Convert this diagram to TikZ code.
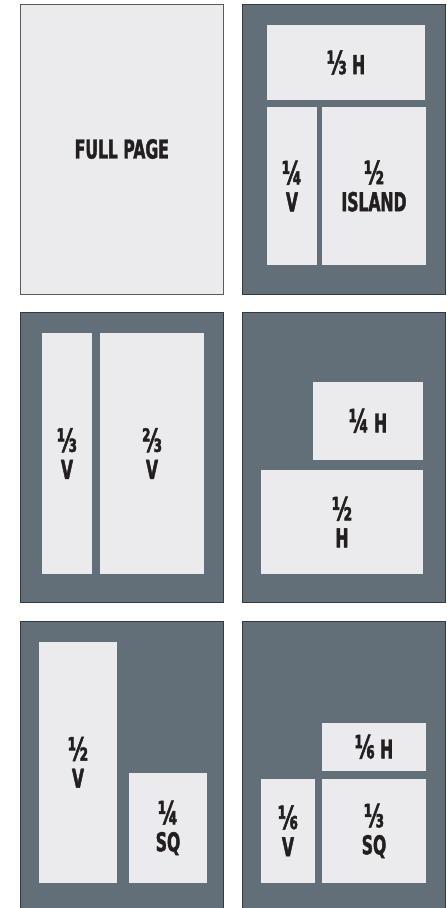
\documentclass[tikz,border=0pt]{standalone}
\usepackage{fontspec}
\newfontfamily\lbl{DejaVu Sans}[FakeStretch=0.6, BoldFeatures={FakeBold=1.6}]
\newcommand{\fr}[1]{{\fontsize{32}{27}\selectfont #1}}
\definecolor{slate}{HTML}{636F78}
\definecolor{paper}{HTML}{EBEBED}
\definecolor{edgedark}{HTML}{353A3E}
\definecolor{edgegray}{HTML}{5A5A5A}
\definecolor{ink}{HTML}{231F20}
\tikzset{
  page/.style={draw=edgedark, fill=slate, line width=1pt, inner sep=0pt, outer sep=0pt,
    minimum width=203pt, minimum height=290pt},
  fullpage/.style={page, draw=edgegray, fill=paper, font=\lbl\bfseries\fontsize{26}{27}\selectfont, text=ink},
  slot/.style={fill=paper, inner sep=0pt, outer sep=0pt, align=center,
    font=\lbl\bfseries\fontsize{26}{27}\selectfont, text=ink}
}
\begin{document}
\begin{tikzpicture}[x=1pt,y=-1pt]
\useasboundingbox (0,0) rectangle (447,908);
% row 1
\node[fullpage] (p1) at (121.8,149) {FULL PAGE};
\node[page] (p2) at (343.5,149.2) {};
\node[slot, minimum width=158pt, minimum height=75pt] (p2a) at (346,62.5) {\fr{⅓} H};
\node[slot, minimum width=50pt, minimum height=158pt] (p2b) at (292,186) {\fr{¼}\\V};
\node[slot, minimum width=104pt, minimum height=158pt] (p2c) at (374,186) {\fr{½}\\ISLAND};
% row 2
\node[page] (p3) at (121.8,457.5) {};
\node[slot, minimum width=50pt, minimum height=241pt] (p3a) at (67,453.5) {\fr{⅓}\\V};
\node[slot, minimum width=104pt, minimum height=241pt] (p3b) at (152,453.5) {\fr{⅔}\\V};
\node[page] (p4) at (343.5,457.5) {};
\node[slot, minimum width=110pt, minimum height=77.7pt] (p4a) at (368,420.8) {\fr{¼} H};
\node[slot, minimum width=162pt, minimum height=104pt] (p4b) at (342,522) {\fr{½}\\H};
% row 3
\node[page] (p5) at (121.8,766.7) {};
\node[slot, minimum width=78pt, minimum height=240.7pt] (p5a) at (78,762.3) {\fr{½}\\V};
\node[slot, minimum width=78pt, minimum height=109.7pt] (p5b) at (168,827.8) {\fr{¼}\\SQ};
\node[page] (p6) at (343.5,766.7) {};
\node[slot, minimum width=104pt, minimum height=47.7pt] (p6a) at (374,746.8) {\fr{⅙} H};
\node[slot, minimum width=54pt, minimum height=103.7pt] (p6b) at (288,830.8) {\fr{⅙}\\V};
\node[slot, minimum width=104pt, minimum height=103.7pt] (p6c) at (374,830.8) {\fr{⅓}\\SQ};
\end{tikzpicture}
\end{document}
